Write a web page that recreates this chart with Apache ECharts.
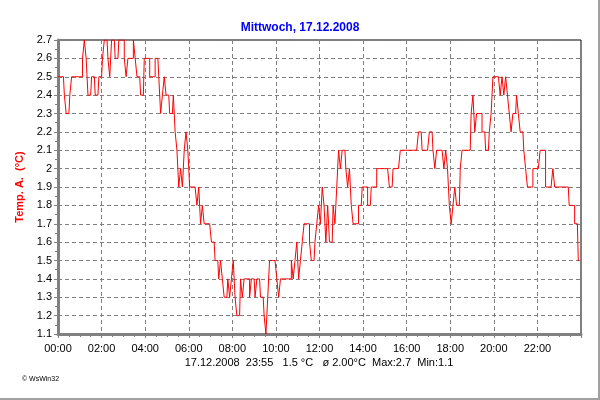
<!DOCTYPE html>
<html>
<head>
<meta charset="utf-8">
<script src="https://cdn.jsdelivr.net/npm/echarts@6/dist/echarts.min.js"></script>
<style>html,body{margin:0;padding:0;background:#fff}#c{width:600px;height:400px}</style>
</head>
<body>
<div id="c"></div>
<script>
// 5-minute samples, 00:00 .. 23:55
var temps = [
  2.5,2.5,2.5,2.5,2.4,2.3,2.3,2.4,2.5,2.5,2.5,2.5,2.5,2.5,
  2.6,2.7,2.6,2.4,2.4,2.5,2.5,2.4,2.4,2.5,2.5,
  2.6,2.7,2.7,2.6,2.5,2.7,2.7,2.6,2.6,2.7,2.7,2.7,2.6,
  2.5,2.6,2.6,2.6,2.7,2.6,2.5,2.5,2.4,2.4,
  2.6,2.6,2.6,2.5,2.5,2.5,2.6,2.6,2.5,2.3,2.4,2.5,
  2.4,2.4,2.3,2.3,2.4,2.2,2.1,1.9,2.0,1.9,
  2.1,2.2,2.1,1.9,1.9,1.9,1.9,1.8,1.9,1.7,
  1.8,1.7,1.7,1.7,1.7,1.6,1.6,1.5,1.5,1.4,
  1.5,1.4,1.3,1.3,1.4,1.3,1.4,1.5,1.3,1.2,
  1.2,1.4,1.3,1.4,1.4,1.4,1.3,1.4,1.4,1.3,
  1.4,1.4,1.3,1.3,1.2,1.1,1.3,1.5,1.5,1.5,
  1.5,1.4,1.3,1.4,1.4,1.4,1.4,1.4,1.4,1.5,
  1.4,1.5,1.6,1.4,1.5,1.6,1.7,1.7,1.7,1.6,
  1.5,1.5,1.6,1.7,1.8,1.7,1.9,1.8,1.6,1.8,
  1.6,1.6,1.8,1.7,1.9,2.1,2.0,2.1,2.1,2.0,
  1.9,2.0,1.8,1.7,1.7,1.7,1.8,1.8,1.9,1.9,
  1.9,1.8,1.8,1.9,1.9,1.9,2.0,2.0,2.0,2.0,
  2.0,2.0,2.0,1.9,1.9,2.0,2.0,2.0,2.0,2.1,
  2.1,2.1,2.1,2.1,2.1,2.1,2.1,2.1,2.1,2.2,
  2.2,2.1,2.1,2.1,2.1,2.2,2.2,2.1,2.0,2.1,
  2.1,2.1,2.1,2.0,2.1,2.0,1.8,1.7,1.8,1.9,
  1.8,1.8,2.0,2.1,2.1,2.1,2.1,2.1,2.3,2.4,
  2.2,2.3,2.3,2.3,2.2,2.2,2.1,2.1,2.2,2.3,
  2.5,2.5,2.5,2.5,2.4,2.5,2.4,2.5,2.4,2.3,
  2.2,2.3,2.3,2.4,2.3,2.2,2.2,2.1,2.0,1.9,
  1.9,1.9,2.0,2.0,2.0,2.0,2.1,2.1,2.1,1.9,
  1.9,1.9,1.9,2.0,1.9,1.9,1.9,1.9,1.9,1.9,
  1.9,1.9,1.8,1.8,1.8,1.7,1.7,1.5
];
var sampleMinutes = 5;
var titleText = 'Mittwoch, 17.12.2008';
var yAxisName = 'Temp. A.  (°C)';
var footerText = '17.12.2008  23:55   1.5 °C   ø 2.00°C  Max:2.7  Min:1.1';
var creditText = '© WsWin32';
var yMin = 1.1, yMax = 2.7, yStep = 0.1;
var xMin = 0, xMax = 1440, xStep = 120;

var seriesData = temps.map(function (v, i) { return [i * sampleMinutes, v]; });

function pad(n) { return (n < 10 ? '0' : '') + n; }

var chart = echarts.init(document.getElementById('c'), null, {renderer: 'canvas'});
chart.setOption({
  backgroundColor: '#ffffff',
  animation: false,
  title: {
    text: titleText, left: 'center', top: 17,
    textStyle: {color: '#0000ff', fontWeight: 'bold', fontSize: 12, fontFamily: 'Liberation Sans, Arial, sans-serif'}
  },
  grid: {left: 58, right: 19, top: 40, bottom: 66, show: true, borderColor: '#000000', borderWidth: 1, backgroundColor: '#ffffff'},
  xAxis: {
    type: 'value', min: xMin, max: xMax, interval: xStep,
    axisLine: {show: true, onZero: false, lineStyle: {color: '#808080', width: 3}},
    axisTick: {show: true, length: 4, lineStyle: {color: '#808080'}},
    minorTick: {show: true, splitNumber: 4, length: 3, lineStyle: {color: '#808080'}},
    axisLabel: {
      color: '#000', fontSize: 11, fontFamily: 'Liberation Sans, Arial, sans-serif', margin: 9,
      formatter: function (v) { return v >= xMax ? '' : pad(Math.round(v / 60)) + ':00'; }
    },
    splitLine: {show: true, lineStyle: {color: '#808080', type: [4, 3], width: 1}}
  },
  yAxis: {
    type: 'value', min: yMin, max: yMax, interval: yStep,
    name: yAxisName, nameLocation: 'middle', nameGap: 24,
    nameTextStyle: {color: '#ff0000', fontWeight: 'bold', fontSize: 11, fontFamily: 'Liberation Sans, Arial, sans-serif'},
    axisLine: {show: true, onZero: false, lineStyle: {color: '#808080', width: 3}},
    axisTick: {show: true, length: 4, lineStyle: {color: '#808080'}},
    minorTick: {show: true, splitNumber: 2, length: 3, lineStyle: {color: '#808080'}},
    axisLabel: {
      color: '#000', fontSize: 11, fontFamily: 'Liberation Sans, Arial, sans-serif', margin: 6,
      formatter: function (v) { return String(parseFloat(v.toFixed(1))); }
    },
    splitLine: {show: true, lineStyle: {color: '#808080', type: [4, 3], width: 1}}
  },
  series: [{
    type: 'line', data: seriesData, showSymbol: false, symbol: 'none', step: 'middle',
    lineStyle: {color: '#ff0000', width: 1}, itemStyle: {color: '#ff0000'}, clip: true
  }],
  graphic: [
    {type: 'text', x: 319, y: 357, style: {text: footerText, fill: '#000', align: 'center', font: '11px "Liberation Sans", Arial, sans-serif'}},
    {type: 'text', left: 22, top: 376, style: {text: creditText, fill: '#000', font: '7px "Liberation Sans", Arial, sans-serif'}},
    {type: 'line', shape: {x1: 599, y1: 0, x2: 599, y2: 400}, style: {stroke: '#a0a0a0', lineWidth: 2}},
    {type: 'line', shape: {x1: 0, y1: 399, x2: 600, y2: 399}, style: {stroke: '#a0a0a0', lineWidth: 2}}
  ]
});
</script>
</body>
</html>
